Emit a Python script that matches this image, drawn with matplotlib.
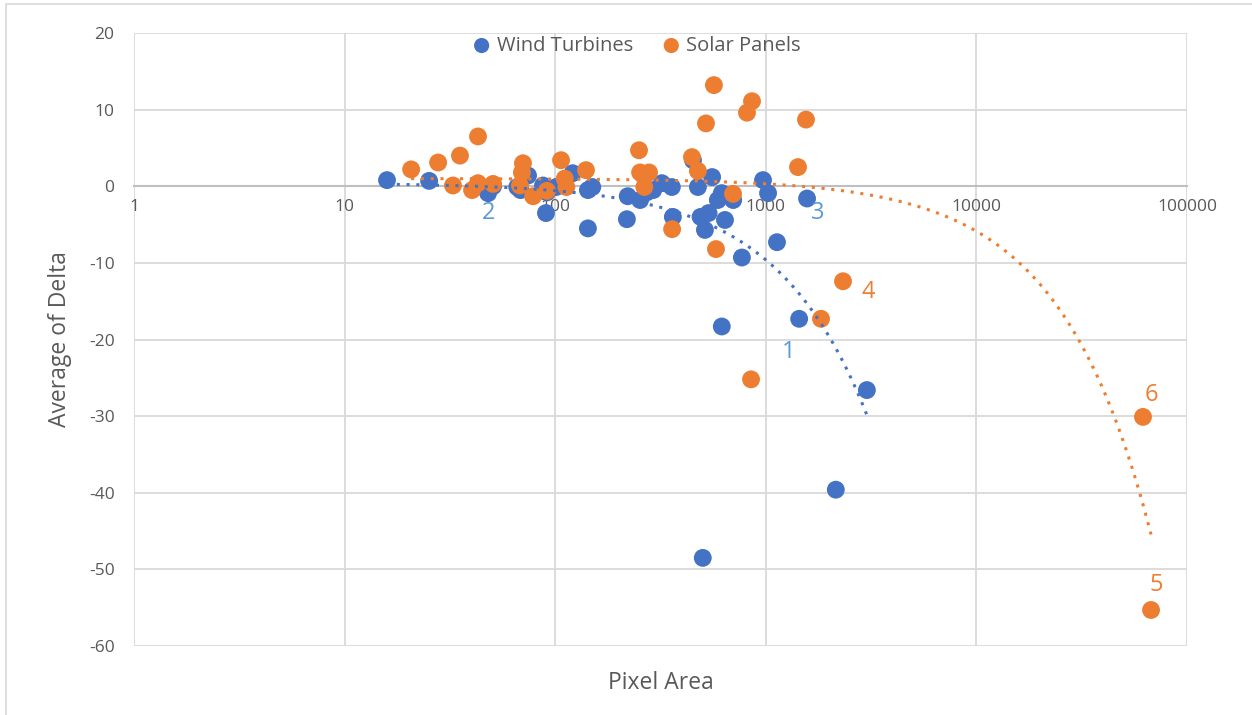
import matplotlib
matplotlib.use("Agg")
import matplotlib.pyplot as plt
import numpy as np
from matplotlib.ticker import FixedLocator, FixedFormatter
from matplotlib.patches import Rectangle

# Wind turbine detections: pixel area vs average delta
wind_area = [15.9, 25.2, 48, 50.7, 66, 68.5, 74.3, 87.5, 91.4, 90.4, 101, 121,
             143, 150, 143, 219, 221, 253, 272, 292, 321, 358, 362, 451, 476,
             556, 490, 535, 514, 592, 618, 700, 640, 970, 1025, 1570, 1130,
             770, 618, 1440, 3020, 2150, 502]
wind_delta = [0.8, 0.7, -0.9, 0.0, -0.1, -0.5, 1.4, 0.1, -0.8, -3.5, -0.1, 1.7,
              -0.5, -0.1, -5.5, -4.3, -1.3, -1.8, -0.8, -0.5, 0.4, -0.1, -4.0,
              3.4, -0.1, 1.2, -4.0, -3.5, -5.7, -1.8, -0.9, -1.8, -4.4, 0.8,
              -0.9, -1.6, -7.3, -9.3, -18.3, -17.3, -26.6, -39.6, -48.5]

# Solar panel detections
solar_area = [20.7, 27.8, 32.7, 35.3, 40.3, 43, 43, 50.7, 68, 70.3, 69.5, 78.5,
              91.4, 106.6, 111, 113, 140, 250, 253, 279, 265, 359, 446, 476,
              520, 567, 580, 699, 814, 860, 1422, 1552, 851, 2326, 1829,
              61800, 67500]
solar_delta = [2.2, 3.1, 0.1, 4.0, -0.5, 6.5, 0.4, 0.3, 0.1, 3.0, 1.8, -1.3,
               -0.6, 3.4, 1.0, -0.1, 2.1, 4.7, 1.8, 1.8, -0.1, -5.6, 3.8, 2.0,
               8.2, 13.2, -8.2, -1.0, 9.6, 11.1, 2.5, 8.7, -25.2, -12.4, -17.3,
               -30.1, -55.3]

# numbered callouts: (text, x, y)
wind_notes = [("1", 1280, -21.6), ("2", 48, -3.5), ("3", 1770, -3.5)]
solar_notes = [("4", 3060, -13.8), ("5", 71500, -52.0), ("6", 67500, -27.2)]

x_ticks = [1, 10, 100, 1000, 10000, 100000]
y_ticks = [20, 10, 0, -10, -20, -30, -40, -50, -60]

BLUE = "#4472C4"
ORANGE = "#ED7D31"
LIGHT_BLUE = "#5B9BD5"
GRID = "#d9d9d9"
TXT = "#595959"

plt.rcParams['font.family'] = ['Open Sans', 'DejaVu Sans']

fig = plt.figure(figsize=(12.52, 7.15), dpi=100)
ax = fig.add_axes([134 / 1252, 1 - 646 / 715, (1187 - 134) / 1252, (646 - 33) / 715])

fig.patches.append(Rectangle((6 / 1252, -0.1), 1.2, 1 - 4 / 715 + 0.1,
                             transform=fig.transFigure, fill=False,
                             edgecolor="#d9d9d9", linewidth=1.2))

ax.set_xscale('log')
ax.set_xlim(1, 100000)
ax.set_ylim(-60, 20)

ax.scatter(wind_area, wind_delta, s=165, color=BLUE, edgecolors='none',
           label="Wind Turbines", zorder=3)
ax.scatter(solar_area, solar_delta, s=165, color=ORANGE, edgecolors='none',
           label="Solar Panels", zorder=3)

# linear least-squares trendlines, drawn over each series' x range
for xs, ys, col in [(wind_area, wind_delta, BLUE), (solar_area, solar_delta, ORANGE)]:
    xs = np.asarray(xs, float)
    slope, icpt = np.polyfit(xs, np.asarray(ys, float), 1)
    tx = np.logspace(np.log10(xs.min()), np.log10(xs.max()), 300)
    ax.plot(tx, icpt + slope * tx, linestyle=(0, (1, 2.2)), color=col,
            linewidth=2.2, zorder=4)

for t, x, y in wind_notes:
    ax.text(x, y, t, color=LIGHT_BLUE, fontsize=17, ha='center', va='center')
for t, x, y in solar_notes:
    ax.text(x, y, t, color=ORANGE, fontsize=17, ha='center', va='center')

ax.xaxis.set_major_locator(FixedLocator(x_ticks))
ax.xaxis.set_major_formatter(FixedFormatter([str(v) for v in x_ticks]))
ax.xaxis.set_minor_locator(FixedLocator([]))
ax.set_yticks(y_ticks)
ax.set_yticklabels([str(v) for v in y_ticks])

ax.grid(True, color=GRID, linewidth=1.3, zorder=0)
ax.set_axisbelow(True)
for side in ['top', 'right', 'left']:
    ax.spines[side].set_visible(False)
ax.spines['bottom'].set_position(('data', 0))
ax.spines['bottom'].set_color("#bfbfbf")
ax.spines['bottom'].set_linewidth(1.5)
ax.spines['bottom'].set_zorder(1)
ax.tick_params(axis='both', length=0, labelsize=12.5, labelcolor=TXT)
ax.tick_params(axis='x', pad=9)
ax.tick_params(axis='y', pad=14)

ax.set_xlabel("Pixel Area", fontsize=16.5, color=TXT)
ax.xaxis.set_label_coords(0.5, -0.04)
ax.set_ylabel("Average of Delta", fontsize=16.5, color=TXT, labelpad=12)

ax.legend(loc='upper center', bbox_to_anchor=(0.477, 1.025), ncol=2, frameon=False,
          fontsize=14.5, handlelength=1.0, handletextpad=0.25, columnspacing=1.4,
          markerscale=0.85, labelcolor=TXT)

fig.savefig("out.png", dpi=100)
